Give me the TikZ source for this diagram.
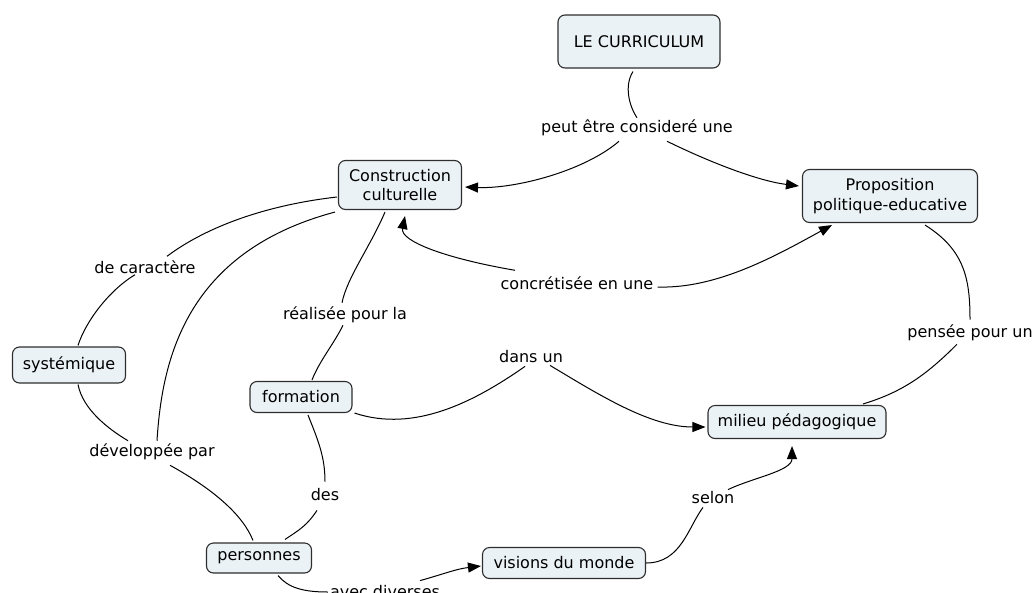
\documentclass[tikz,border=0pt]{standalone}
\usepackage{fontspec}
\setmainfont{DejaVu Sans}
\usepackage{tikz}
\usetikzlibrary{arrows.meta,calc}
\definecolor{m_fill}{HTML}{EBF2F5}
\definecolor{m_line}{HTML}{2E2E2E}

\begin{document}
\begin{tikzpicture}[
        x=1pt, y=-1pt,
        font=\fontsize{16}{19.5}\selectfont,
        concept/.style={draw=m_line,fill=m_fill,line width=1.1pt,rounded corners=7pt,align=center,inner sep=2pt},
        phrase/.style={inner sep=2pt},
        arc/.style={line width=1pt},
        tip/.style={arc,-{Triangle[length=13pt,width=10pt]}}
    ]
        \useasboundingbox (0,0) rectangle (1033,592);
        % concepts
        \node[concept,minimum width=162pt,minimum height=53pt] (cur) at (639,41.5) {LE CURRICULUM};
        \node[concept,minimum width=123pt,minimum height=49pt] (cc) at (400,185) {Construction\\culturelle};
        \node[concept,minimum width=175pt,minimum height=53pt] (prop) at (890,196) {Proposition\\politique-educative};
        \node[concept,minimum width=113pt,minimum height=36pt] (sys) at (69,365) {systémique};
        \node[concept,minimum width=102pt,minimum height=31pt] (form) at (301,397) {formation};
        \node[concept,minimum width=178pt,minimum height=33pt] (mil) at (797,422) {milieu pédagogique};
        \node[concept,minimum width=105pt,minimum height=30pt] (pers) at (259,558) {personnes};
        \node[concept,minimum width=163pt,minimum height=31pt] (vis) at (564,563) {visions du monde};
        % linking phrases
        \node[phrase] (considere) at (637,128) {peut être consideré une};
        \node[phrase] (caractere) at (145,267) {de caractère};
        \node[phrase] (realisee) at (345,315) {réalisée pour la};
        \node[phrase] (concretisee) at (577,283) {concrétisée en une};
        \node[phrase] (dans) at (531,357) {dans un};
        \node[phrase] (pensee) at (970,333) {pensée pour un};
        \node[phrase] (developpee) at (152,452) {développée par};
        \node[phrase] (des) at (325,495) {des};
        \node[phrase] (selon) at (713,498) {selon};
        \node[phrase] (avec) at (385,592) {avec diverses};
        % connectors
        \draw[arc] ($(cur.south)+(-6,3)$) .. controls +(-9,14) and +(-8,-12) .. (considere.north);
        \draw[tip] ($(considere.south)+(-18,3)$) .. controls +(-35,30) and +(50,2) .. ($(cc.east)+(3,2)$);
        \draw[tip] ($(considere.south)+(30,3)$) .. controls +(45,22) and +(-40,-5) .. ($(prop.west)+(-3,-10)$);
        \draw[tip] ($(concretisee.north)+(-62,-4)$) .. controls +(-70,-12) and +(-5,25) .. ($(cc.south)+(5,6)$);
        \draw[tip] ($(concretisee.east)+(2,4)$) .. controls +(60,2) and +(-55,30) .. ($(prop.south)+(-58,2)$);
        \draw[arc] ($(cc.west)+(-1,12)$) .. controls +(-70,8) and +(40,-30) .. ($(caractere.north)+(22,-2)$);
        \draw[arc] ($(caractere.south)+(-10,-1)$) .. controls +(-25,15) and +(8,-25) .. ($(sys.north)+(9,-1)$);
        \draw[arc] ($(cc.south west)+(-3,2)$) .. controls +(-150,40) and +(5,-80) .. ($(developpee.north)+(5,-1)$);
        \draw[arc] ($(sys.south)+(9,1)$) .. controls +(5,25) and +(-20,-12) .. ($(developpee.north)+(-24,-1)$);
        \draw[arc] ($(developpee.south)+(18,3)$) .. controls +(45,25) and +(-10,-25) .. ($(pers.north)+(-6,-2)$);
        \draw[arc] ($(cc.south)+(-15,2)$) .. controls +(-15,35) and +(5,-25) .. ($(realisee.north)+(-3,-2)$);
        \draw[arc] ($(realisee.south)+(-2,0)$) .. controls +(-10,20) and +(8,-20) .. ($(form.north)+(11,-1)$);
        \draw[arc] ($(form.south east)+(2,0)$) .. controls +(60,20) and +(-50,35) .. ($(dans.south)+(-6,1)$);
        \draw[tip] ($(dans.south)+(19,0)$) .. controls +(50,30) and +(-55,0) .. ($(mil.west)+(-2,5)$);
        \draw[arc] ($(prop.south)+(35,2)$) .. controls +(40,25) and +(0,-40) .. ($(pensee.north)+(0,-3)$);
        \draw[arc] ($(pensee.south)+(-13,1)$) .. controls +(-30,30) and +(40,-12) .. ($(mil.north)+(66,-1)$);
        \draw[arc] ($(form.south)+(7,2)$) .. controls +(10,25) and +(0,-25) .. ($(des.north)+(0,-5)$);
        \draw[arc] ($(des.south)+(-8,7)$) .. controls +(-10,15) and +(15,-10) .. ($(pers.north)+(26,-3)$);
        \draw[arc] ($(pers.south)+(19,2)$) .. controls +(10,12) and +(-25,0) .. (avec.west);
        \draw[tip] ($(avec.north)+(35,-3)$) .. controls +(25,-7) and +(-25,3) .. ($(vis.west)+(-1,3)$);
        \draw[arc] (vis.east) .. controls +(35,0) and +(-15,20) .. ($(selon.south)+(-10,1)$);
        \draw[tip] ($(selon.north)+(15,0)$) .. controls +(25,-12) and +(0,25) .. ($(mil.south)+(-5,7)$);
    \end{tikzpicture}
\end{document}
